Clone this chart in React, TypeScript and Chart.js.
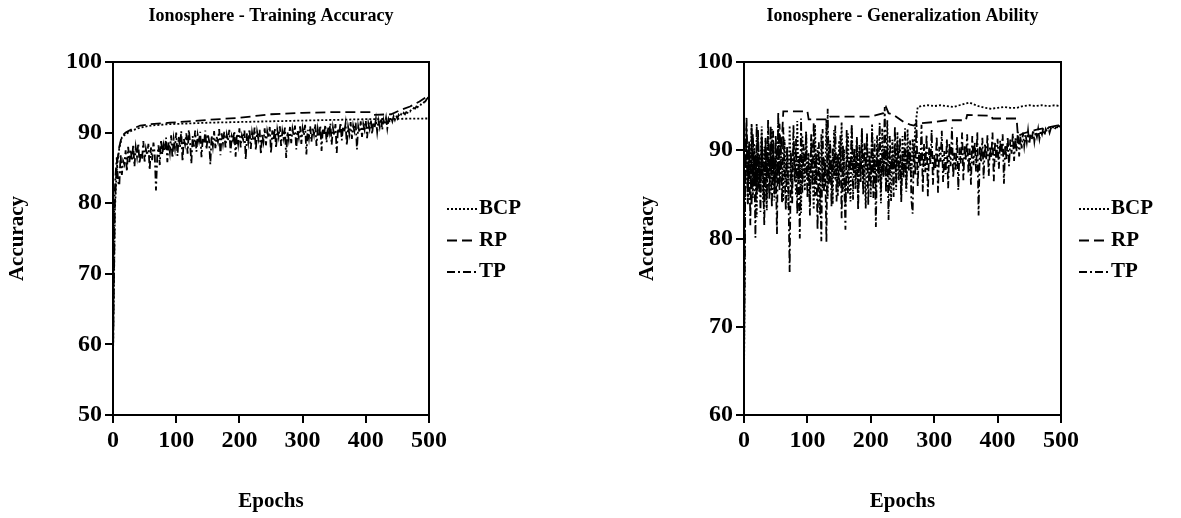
import React, { useEffect, useRef } from 'react';
import { Chart, registerables } from 'chart.js';

Chart.register(...registerables);

// ---------- shared ----------
const EPOCH_STEP = 2; // noisy curves are sampled every 2 epochs
const X_MIN = 0;
const X_MAX = 500;
const SERIES_LABELS = ['BCP', 'RP', 'TP'];
const SERIES_DASH = [[2, 2], [10, 5], [8, 3, 2, 3]];

// ---------- left chart: Training Accuracy ----------
const trainBcpEpochs = [0, 3, 6, 10, 14, 20, 30, 43, 60, 90, 120, 150, 200, 250, 300, 350, 400, 450, 500];
const trainBcpValues = [58, 79, 85, 87.8, 89.3, 89.8, 90.3, 90.7, 91.0, 91.2, 91.3, 91.4, 91.5, 91.6, 91.7, 91.8, 91.9, 91.95, 92.0];

const trainRpEpochs = [0, 3, 6, 10, 14, 20, 30, 43, 60, 90, 120, 150, 200, 230, 250, 300, 350, 408, 412, 440, 455, 470, 485, 500];
const trainRpValues = [58, 80, 85.5, 88, 89.5, 90.0, 90.5, 91.0, 91.2, 91.4, 91.6, 91.8, 92.1, 92.4, 92.6, 92.8, 92.9, 92.9, 92.5, 92.6, 93.2, 93.7, 94.4, 95.3];

// epochs 0..500 every 2
const trainTpValues = [
  59, 80, 84, 86.5, 83, 82.5, 87, 84, 86, 85.5, 87.5,
  84.5, 88, 85.8, 87.6, 86, 88.3, 85.2, 87.9, 86.6, 88.5, 85.6, 87.2, 86.3, 88.8, 85.9, 87.7, 86.8, 88.4, 84.7, 87.9,
  86.1, 88.6, 87, 81.8, 86.5, 88.2, 85.4, 89, 86.9, 88.3, 87.4, 89.3, 85.8, 88.6, 87.2, 89.6, 86.4, 89.1, 87.8, 90,
  86.7, 89.4, 87.9, 90.2, 85.9, 89.1, 88.3, 89.9, 87, 90.4, 88.6, 85.6, 89.5, 88, 90.3, 87.3, 89.7, 88.8, 90.1, 86.5,
  89.2, 88.4, 90.3, 87.6, 89.8, 88.9, 85.5, 89.6, 88.1, 90.2, 87.8, 89.4, 88.7, 90.5, 86.8, 89.9, 88.5, 90.1, 87.9, 89.7,
  88.8, 90.4, 87.2, 89.5, 88.9, 90.2, 86.6, 89.8, 88.4, 90.6, 87.9, 89.6, 89, 90.3, 86.2, 89.9, 88.6, 90.5, 87.7, 90,
  88.9, 90.7, 87.5, 90.1, 89.1, 90.4, 86.9, 89.8, 88.7, 90.6, 88.2, 90.2, 89.3, 90.8, 87.1, 90.3, 88.9, 90.6, 87.8, 90.4,
  89.4, 90.9, 88.1, 90.2, 89.2, 90.7, 86.4, 90.1, 89, 90.8, 88.5, 90.5, 89.5, 91, 87.6, 90.3, 89.3, 90.9, 88.4, 90.6,
  89.6, 91.1, 86.9, 90.4, 89.2, 90.9, 88.7, 90.7, 89.7, 91.2, 88.1, 90.5, 89.4, 91, 87.4, 90.6, 89.8, 91.1, 88.6, 90.8,
  89.9, 91.3, 88.3, 90.7, 89.6, 91.2, 87.1, 90.6, 89.9, 91.4, 88.9, 90.9, 90.1, 91.3, 88.2, 90.8, 89.8, 91.5, 89.1, 91,
  90.2, 91.4, 87.6, 90.9, 90, 91.6, 89.4, 91.2, 90.4, 91.7, 89.2, 91.3, 90.5, 91.8, 89.8, 91.5, 90.7, 91.9, 90.1, 91.7,
  90.8, 92, 90.4, 91.8, 91.1, 92.1, 90.6, 91.9, 91.4, 92.2, 91.6, 92.3, 91.8, 92.4, 92, 92.5, 92.2, 92.6, 92.4, 92.8,
  92.6, 92.9, 92.8, 93.1, 93, 93.3, 93.2, 93.5, 93.4, 93.7, 93.6, 93.9, 93.8, 94.1, 94, 94.3, 94.4, 94.7, 94.9, 95.3,
];

// ---------- right chart: Generalization Ability ----------
// BCP: noisy part, epochs 0..270 every 2
const genBcpNoisyValues = [
  64, 86, 91.5, 83.8, 89.8, 86.5, 93, 84.6, 90.8, 87.2, 82.4,
  91.6, 85.2, 88.9, 92.7, 84.1, 90.4, 86.9, 83.2, 91.9, 87.7, 85.1, 92.4, 88.2, 84.3, 90.6, 86.4, 93.1, 85.5, 89.3, 87.8,
  84.2, 91.2, 86.7, 89.9, 83.5, 92.8, 87.3, 85.8, 90.9, 88.6, 84.9, 93.3, 86.2, 89.4, 82.9, 91.7, 87.9, 85.4, 92.1, 86.8,
  89.7, 84.6, 91.4, 87.5, 83.3, 92.9, 86.1, 90.3, 88.4, 82.7, 91.8, 85.7, 89.1, 87.1, 93.5, 84.5, 90.7, 86.3, 88.9, 83.9,
  92.3, 86.6, 89.6, 84.8, 91.1, 87.6, 93.2, 85.3, 90.1, 83.7, 88.7, 91.9, 86.4, 84.2, 92.6, 87.9, 89.8, 85.6, 91.3, 84.4,
  90.6, 87, 92.2, 85.9, 88.3, 83.4, 91.5, 86.8, 90.2, 84.7, 93, 87.4, 89.5, 85.1, 91.7, 86.3, 88.6, 84, 92.5, 87.1,
  90.4, 85.8, 93.4, 86.9, 89.3, 84.2, 91.2, 87.8, 90.6, 85.5, 92.1, 86.6, 88.8, 84.9, 91.6, 87.5, 90, 85.3, 92.4, 88.2,
  89.7, 86.4, 91.3, 88.8, 92.6,
];
// BCP: settled part
const genBcpTailEpochs = [274, 280, 290, 300, 310, 320, 330, 340, 350, 356, 362, 370, 380, 390, 400, 410, 420, 430, 440, 450, 460, 470, 480, 490, 500];
const genBcpTailValues = [94.9, 95.0, 95.1, 95.0, 95.1, 95.0, 94.9, 95.1, 95.3, 95.4, 95.2, 95.0, 94.8, 94.7, 94.8, 94.9, 94.8, 94.8, 95.0, 95.1, 95.0, 95.1, 95.0, 95.1, 95.0];

// RP: noisy start, epochs 0..62 every 2
const genRpNoisyValues = [
  66, 87, 92.5, 85.5, 90.6, 88.2, 83.6, 91.9, 86.4, 89.7,
  84.8, 92.3, 87.6, 85.2, 90.9, 88.5, 83.9, 91.4, 86.9, 89.2,
  84.5, 92.8, 87.1, 90.1, 85.7, 91.6, 88.8, 86.2, 93, 89.4,
  91.5, 94.4,
];
// RP: plateaus
const genRpTailEpochs = [64, 100, 102, 134, 136, 200, 210, 220, 224, 228, 236, 244, 252, 262, 268, 272, 300, 320, 350, 352, 390, 392, 430, 432, 440, 460, 480, 500];
const genRpTailValues = [94.4, 94.4, 93.5, 93.5, 93.8, 93.8, 94.0, 94.2, 94.9, 94.2, 94.0, 93.6, 93.2, 92.9, 92.8, 93.0, 93.2, 93.4, 93.4, 94.0, 93.9, 93.6, 93.6, 91.6, 91.9, 92.3, 92.6, 92.9];

// TP: epochs 0..500 every 2
const genTpValues = [
  65, 88, 93.8, 84, 91, 81.5, 92.5, 86, 90, 80.1, 93,
  85.5, 89.5, 83, 92, 87, 81.5, 91.2, 84.5, 93.5, 86.8, 90, 83.5, 92.2, 85, 88.8, 80.5, 94.3, 86.2, 91, 84,
  92.6, 87.5, 83.2, 90.4, 85.6, 76.2, 89.8, 84, 92.9, 86.5, 91.3, 82.8, 89, 80, 93.6, 85.2, 90.7, 87.4, 92.1, 84.6,
  88.5, 82.6, 91.8, 86, 93.2, 84.8, 89.6, 81, 90.9, 86.8, 79.7, 92.4, 85.4, 88.7, 79.6, 94.7, 86.2, 91.1, 83.6, 90.2,
  87.1, 92.8, 84.2, 89.5, 85.9, 91.7, 82.3, 90.6, 86.7, 81, 92.3, 85.1, 89.2, 87.6, 93, 84.4, 90.3, 86.9, 91.5, 83.2,
  89.9, 86.4, 92.6, 84.9, 90.8, 87.8, 91.9, 83.8, 89.4, 86.2, 92.4, 84.6, 91.2, 81.3, 90.1, 87.3, 93.1, 85.5, 89.7, 86.9,
  94.9, 85.2, 90.5, 82.1, 91.6, 87.4, 89.2, 84.7, 92.7, 86.5, 90.9, 88, 91.4, 84.1, 89.6, 86.8, 92.5, 85.7, 90.2, 87.7,
  91.1, 84.4, 82.8, 90.6, 87.2, 93.4, 85.9, 89.8, 88.1, 92.9, 85.3, 90.7, 87.5, 91.8, 84.8, 90.3, 88.4, 92.3, 86.1, 89.5,
  87.9, 91.6, 85.2, 90.4, 88.7, 92.2, 86.4, 89.9, 87.3, 91.3, 85.7, 90.8, 88.2, 92.6, 86.9, 89.7, 87.8, 91.5, 85.5, 90.3,
  88.5, 92, 86.6, 90.6, 88.9, 91.8, 87.4, 90.2, 86.1, 91.6, 88.3, 90.9, 87.6, 92.1, 82.6, 90.5, 88.6, 91.4, 86.8, 90.8,
  88.9, 91.7, 87.1, 90.4, 89.2, 92, 86.5, 90.9, 88.7, 91.3, 87.9, 91.1, 89.4, 91.8, 86.2, 90.6, 89, 91.5, 88.2, 91.2,
  89.6, 91.9, 88.8, 91.4, 89.9, 92.1, 89.3, 91.6, 90.2, 92, 90.5, 91.8, 90.9, 92.2, 90.7, 91.9, 91.2, 92.3, 91, 92.1,
  91.5, 92.4, 91.3, 92.2, 91.8, 92.5, 91.7, 92.4, 92.1, 92.6, 92, 92.5, 92.3, 92.7, 92.4, 92.6, 92.6, 92.8, 92.7, 92.9,
];

// ---------- helpers ----------
const FONT = '"Liberation Serif", "Times New Roman", serif';
const TICK_SIZE = 24;
const AXIS_TITLE_SIZE = 21;
const LEGEND_SIZE = 21;

type Pt = { x: number; y: number };
const pairs = (xs: number[], ys: number[]): Pt[] => ys.map((y, i) => ({ x: xs[i], y }));
const stepped = (ys: number[]): Pt[] => ys.map((y, i) => ({ x: i * EPOCH_STEP, y }));

const lineDataset = (label: string, dash: number[], data: Pt[]) => ({
  label,
  data,
  borderColor: '#000',
  backgroundColor: '#000',
  borderWidth: 1.8,
  borderDash: dash,
  pointRadius: 0,
  tension: 0,
  fill: false,
});

const boxPlugin = {
  id: 'frameBox',
  afterDatasetsDraw(chart: any) {
    const { ctx, chartArea } = chart;
    ctx.save();
    ctx.strokeStyle = '#000';
    ctx.lineWidth = 2;
    ctx.setLineDash([]);
    ctx.strokeRect(chartArea.left, chartArea.top, chartArea.right - chartArea.left, chartArea.bottom - chartArea.top);
    ctx.restore();
  },
};

const sideLegendPlugin = {
  id: 'sideLegend',
  afterDraw(chart: any) {
    const { ctx, chartArea } = chart;
    const mid = (chartArea.top + chartArea.bottom) / 2 + 2;
    const n = chart.data.datasets.length;
    chart.data.datasets.forEach((ds: any, i: number) => {
      const y = mid + (i - (n - 1) / 2) * 31.5;
      const x0 = chartArea.right + 18;
      ctx.save();
      ctx.strokeStyle = '#000';
      ctx.lineWidth = 2;
      ctx.setLineDash(ds.borderDash || []);
      ctx.beginPath();
      ctx.moveTo(x0, y);
      ctx.lineTo(x0 + 30, y);
      ctx.stroke();
      ctx.setLineDash([]);
      ctx.fillStyle = '#000';
      ctx.font = `bold ${LEGEND_SIZE}px ${FONT}`;
      ctx.textBaseline = 'middle';
      ctx.textAlign = 'left';
      ctx.fillText(ds.label, x0 + 32, y);
      ctx.restore();
    });
  },
};

const buildConfig = (title: string, yMin: number, yMax: number, datasets: any[], padRight: number, yWidth: number) => ({
  type: 'line' as const,
  data: { datasets },
  plugins: [boxPlugin, sideLegendPlugin],
  options: {
    animation: false as const,
    responsive: false,
    maintainAspectRatio: false,
    layout: { padding: { left: 0, right: padRight, top: 0, bottom: 0 } },
    plugins: {
      legend: { display: false },
      tooltip: { enabled: false },
      title: {
        display: true,
        fullSize: false,
        text: title,
        color: '#000',
        font: { family: FONT, size: 18, weight: 'bold' as const },
        padding: { top: 6, bottom: 34.4 },
      },
    },
    scales: {
      x: {
        type: 'linear' as const,
        min: X_MIN,
        max: X_MAX,
        ticks: { stepSize: 100, color: '#000', font: { family: FONT, size: TICK_SIZE, weight: 'bold' as const }, padding: 3, maxRotation: 0 },
        grid: { display: true, drawOnChartArea: false, drawTicks: true, tickLength: 8, color: '#000', lineWidth: 2 },
        border: { display: true, color: '#000', width: 2 },
        title: { display: true, text: 'Epochs', color: '#000', font: { family: FONT, size: AXIS_TITLE_SIZE, weight: 'bold' as const }, padding: { top: 0, bottom: 4 } },
        afterFit: (s: any) => { s.height = 103; },
      },
      y: {
        type: 'linear' as const,
        min: yMin,
        max: yMax,
        ticks: { stepSize: 10, color: '#000', font: { family: FONT, size: TICK_SIZE, weight: 'bold' as const }, padding: 3 },
        grid: { display: true, drawOnChartArea: false, drawTicks: true, tickLength: 8, color: '#000', lineWidth: 2 },
        border: { display: true, color: '#000', width: 2 },
        title: { display: true, text: 'Accuracy', color: '#000', font: { family: FONT, size: AXIS_TITLE_SIZE, weight: 'bold' as const }, padding: { top: 5, bottom: 0 } },
        afterFit: (s: any) => { s.width = yWidth; },
      },
    },
  },
});

function LineChart({ config, left, width }: { config: any; left: number; width: number }) {
  const ref = useRef<HTMLCanvasElement | null>(null);
  useEffect(() => {
    if (!ref.current) return;
    const chart = new Chart(ref.current, config);
    return () => chart.destroy();
  }, [config]);
  return (
    <canvas
      ref={ref}
      width={width}
      height={518}
      style={{ position: 'absolute', left, top: 0, width, height: 518 }}
    />
  );
}

const leftConfig = buildConfig(
  'Ionosphere - Training Accuracy',
  50,
  100,
  [
    lineDataset(SERIES_LABELS[0], SERIES_DASH[0], pairs(trainBcpEpochs, trainBcpValues)),
    lineDataset(SERIES_LABELS[1], SERIES_DASH[1], pairs(trainRpEpochs, trainRpValues)),
    lineDataset(SERIES_LABELS[2], SERIES_DASH[2], stepped(trainTpValues)),
  ],
  113,
  113,
);

const rightConfig = buildConfig(
  'Ionosphere - Generalization Ability',
  60,
  100,
  [
    lineDataset(SERIES_LABELS[0], SERIES_DASH[0], stepped(genBcpNoisyValues).concat(pairs(genBcpTailEpochs, genBcpTailValues))),
    lineDataset(SERIES_LABELS[1], SERIES_DASH[1], stepped(genRpNoisyValues).concat(pairs(genRpTailEpochs, genRpTailValues))),
    lineDataset(SERIES_LABELS[2], SERIES_DASH[2], stepped(genTpValues)),
  ],
  114,
  114,
);

export default function App() {
  return (
    <div style={{ position: 'absolute', left: 0, top: 0, width: 1181, height: 518, background: '#fff' }}>
      <LineChart config={leftConfig} left={0} width={542} />
      <LineChart config={rightConfig} left={630} width={545} />
    </div>
  );
}
